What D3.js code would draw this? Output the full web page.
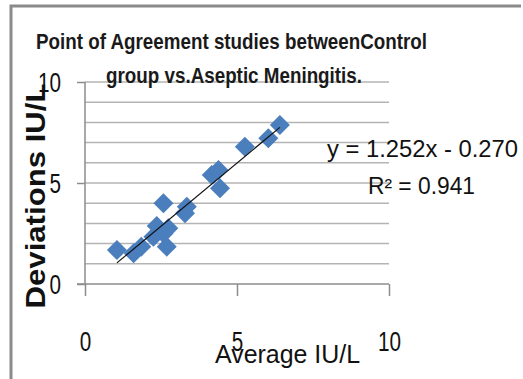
<!DOCTYPE html>
<html>
<head>
<meta charset="utf-8">
<script src="https://cdn.jsdelivr.net/npm/d3@7"></script>
<style>
  body { margin: 0; background: #fff; }
  text { font-family: "Liberation Sans Narrow", "Liberation Sans", Arial, sans-serif; }
</style>
</head>
<body>
<script>
// values
const avgIU = [1.05, 1.6, 1.85, 2.25, 2.36, 2.58, 2.58, 2.69, 2.74, 3.29, 3.35, 4.17, 4.39, 4.44, 5.26, 6.03, 6.41]
const devIU = [1.68, 1.52, 1.85, 2.34, 2.87, 4.0, 2.5, 1.85, 2.76, 3.5, 3.83, 5.4, 5.64, 4.74, 6.8, 7.21, 7.87]
const xTicks = [0, 5, 10]
const yTicks = [0, 5, 10]
const gridVals = [1, 2, 3, 4, 5, 6, 7, 8, 9, 10]
const slope = 1.252, intercept = -0.270
const eqLines = ['y = 1.252x - 0.270', 'R\u00b2 = 0.941']
const titleLines = ['Point of Agreement studies betweenControl', 'group vs.Aseptic Meningitis.']

const W = 523, H = 379
const plot = {left: 85, right: 389, top: 82, bottom: 284}
const blue = '#4a7ebd'
const axisGray = '#8c8c8c'

const svg = d3.select('body').append('svg')
  .attr('width', W).attr('height', H)

// outer frame (only top and left edges show)
svg.append('path')
  .attr('d', `M11,${H} L11,6 L521,6`)
  .attr('fill', 'none').attr('stroke', '#8a8a8a').attr('stroke-width', 3)

const x = d3.scaleLinear().domain([0, 10]).range([plot.left, plot.right])
const y = d3.scaleLinear().domain([0, 10]).range([plot.bottom, plot.top])

// horizontal gridlines
svg.append('g').selectAll('line').data(gridVals).enter().append('line')
  .attr('x1', x(0)).attr('x2', x(10))
  .attr('y1', d => y(d)).attr('y2', d => y(d))
  .attr('stroke', '#b4b4b4').attr('stroke-width', 1.5)

// narrow digits like the original's font
const digitLen = d => String(d).length * 11.5

// y axis
const yAxis = d3.axisLeft(y).tickValues(yTicks).tickSize(8).tickFormat(d3.format('d'))
const gY = svg.append('g').attr('transform', `translate(${plot.left},0)`).call(yAxis)
gY.select('.domain').attr('stroke', axisGray).attr('stroke-width', 1.5).attr('d', `M0,${y(10)}V${y(0)}`)
gY.selectAll('.tick line').attr('stroke', axisGray).attr('stroke-width', 1.5)
gY.selectAll('.tick text')
  .attr('x', -24).attr('dy', '0.36em')
  .attr('textLength', digitLen).attr('lengthAdjust', 'spacingAndGlyphs')
  .style('font-size', '27px').attr('fill', '#111')

// x axis
const xAxis = d3.axisBottom(x).tickValues(xTicks).tickSize(12).tickFormat(d3.format('d'))
const gX = svg.append('g').attr('transform', `translate(0,${plot.bottom})`).call(xAxis)
gX.select('.domain').attr('stroke', axisGray).attr('stroke-width', 1.5).attr('d', `M${plot.left - 8},0H${x(10)}`)
gX.selectAll('.tick line').attr('stroke', axisGray).attr('stroke-width', 1.5)
gX.selectAll('.tick text')
  .attr('y', 67).attr('dy', 0)
  .attr('textLength', digitLen).attr('lengthAdjust', 'spacingAndGlyphs')
  .style('font-size', '27px').attr('fill', '#111')

// points
const diamond = d3.symbol().type(d3.symbolSquare).size(200)
svg.append('g').selectAll('path').data(avgIU).enter().append('path')
  .attr('d', diamond)
  .attr('transform', (d, i) => `translate(${x(d)},${y(devIU[i])}) rotate(45)`)
  .attr('fill', blue)

// linear trendline
const xMin = d3.min(avgIU), xMax = d3.max(avgIU)
svg.append('line')
  .attr('x1', x(xMin)).attr('y1', y(slope * xMin + intercept))
  .attr('x2', x(xMax)).attr('y2', y(slope * xMax + intercept))
  .attr('stroke', '#111').attr('stroke-width', 1.2)

// title
svg.append('text').attr('x', 36).attr('y', 49)
  .attr('textLength', 391).attr('lengthAdjust', 'spacingAndGlyphs')
  .style('font-size', '22px').style('font-weight', 'bold').attr('fill', '#1a1a1a')
  .text(titleLines[0])
svg.append('text').attr('x', 106).attr('y', 83)
  .attr('textLength', 256).attr('lengthAdjust', 'spacingAndGlyphs')
  .style('font-size', '22px').style('font-weight', 'bold').attr('fill', '#1a1a1a')
  .text(titleLines[1])

// axis titles
svg.append('text')
  .attr('transform', 'translate(45,196) rotate(-90)')
  .attr('text-anchor', 'middle')
  .attr('textLength', 225).attr('lengthAdjust', 'spacingAndGlyphs')
  .style('font-size', '27px').style('font-weight', 'bold').attr('fill', '#111')
  .text('Deviations IU/L')
svg.append('text').attr('x', 215).attr('y', 363)
  .attr('textLength', 145).attr('lengthAdjust', 'spacingAndGlyphs')
  .style('font-size', '25px').attr('fill', '#111')
  .text('Average IU/L')

// trendline equation
svg.append('text').attr('x', 327).attr('y', 157)
  .attr('textLength', 191).attr('lengthAdjust', 'spacingAndGlyphs')
  .style('font-size', '23px').attr('fill', '#111')
  .text(eqLines[0])
svg.append('text').attr('x', 368).attr('y', 194)
  .attr('textLength', 107).attr('lengthAdjust', 'spacingAndGlyphs')
  .style('font-size', '23px').attr('fill', '#111')
  .text(eqLines[1])
</script>
</body>
</html>
